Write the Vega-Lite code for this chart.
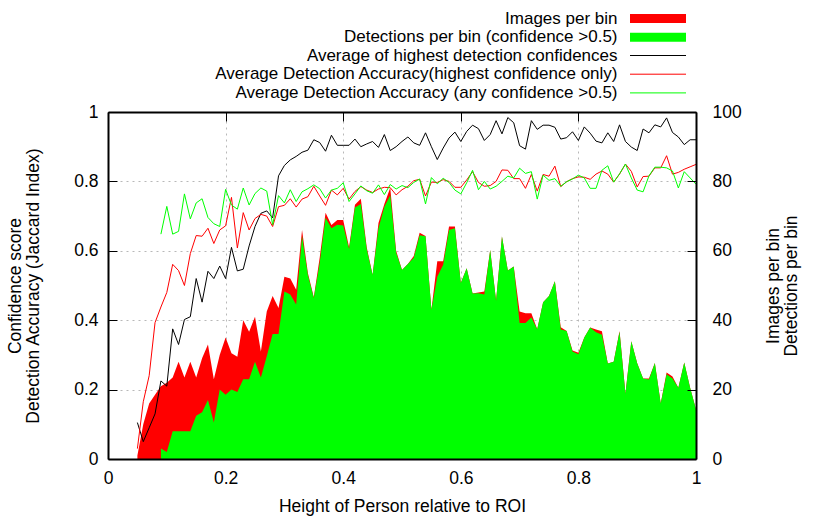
{
  "$schema": "https://vega.github.io/schema/vega-lite/v6.json",
  "width": 588,
  "height": 347,
  "autosize": {"type": "none"},
  "padding": {"left": 108, "top": 112, "right": 134, "bottom": 59},
  "background": "#ffffff",
  "data": {"values": [
    {"h":0.05,"img":1,"det":null,"conf":0.105,"acc":0.03,"accAny":null},
    {"h":0.06,"img":10,"det":null,"conf":0.05,"acc":0.165,"accAny":null},
    {"h":0.07,"img":16,"det":null,"conf":0.09,"acc":0.24,"accAny":null},
    {"h":0.08,"img":18.5,"det":null,"conf":0.13,"acc":0.393,"accAny":null},
    {"h":0.09,"img":21,"det":3,"conf":0.225,"acc":0.438,"accAny":0.648},
    {"h":0.10,"img":22,"det":2,"conf":0.21,"acc":0.48,"accAny":0.728},
    {"h":0.11,"img":23.5,"det":8,"conf":0.375,"acc":0.561,"accAny":0.648},
    {"h":0.12,"img":28,"det":8,"conf":0.33,"acc":0.543,"accAny":0.656},
    {"h":0.13,"img":23.5,"det":8,"conf":0.402,"acc":0.5,"accAny":0.764},
    {"h":0.14,"img":28,"det":8,"conf":0.41,"acc":0.592,"accAny":0.692},
    {"h":0.15,"img":23.5,"det":12.5,"conf":0.52,"acc":0.644,"accAny":0.738},
    {"h":0.16,"img":29,"det":13.5,"conf":0.452,"acc":0.642,"accAny":0.75},
    {"h":0.17,"img":33,"det":17,"conf":0.541,"acc":0.665,"accAny":0.696},
    {"h":0.18,"img":23,"det":10.5,"conf":0.52,"acc":0.621,"accAny":0.678},
    {"h":0.19,"img":30,"det":20,"conf":0.556,"acc":0.66,"accAny":0.67},
    {"h":0.20,"img":35,"det":18.5,"conf":0.52,"acc":0.672,"accAny":0.777},
    {"h":0.21,"img":30.5,"det":20,"conf":0.61,"acc":0.754,"accAny":0.732},
    {"h":0.22,"img":29.5,"det":19.3,"conf":0.542,"acc":0.608,"accAny":0.72},
    {"h":0.23,"img":40,"det":23,"conf":0.547,"acc":0.71,"accAny":0.781},
    {"h":0.24,"img":36.7,"det":23,"conf":0.614,"acc":0.66,"accAny":0.732},
    {"h":0.25,"img":41,"det":28,"conf":0.67,"acc":0.693,"accAny":0.765},
    {"h":0.26,"img":31,"det":23.5,"conf":0.708,"acc":0.705,"accAny":0.781},
    {"h":0.27,"img":42.5,"det":29.6,"conf":0.715,"acc":0.7,"accAny":0.772},
    {"h":0.28,"img":47,"det":36,"conf":0.695,"acc":0.67,"accAny":0.675},
    {"h":0.29,"img":43.5,"det":36,"conf":0.816,"acc":0.727,"accAny":0.759},
    {"h":0.30,"img":52.5,"det":48.3,"conf":0.846,"acc":0.731,"accAny":0.738},
    {"h":0.31,"img":52,"det":47.4,"conf":0.862,"acc":0.75,"accAny":0.776},
    {"h":0.32,"img":48.8,"det":44.5,"conf":0.872,"acc":0.726,"accAny":0.742},
    {"h":0.33,"img":66,"det":64.2,"conf":0.884,"acc":0.749,"accAny":0.77},
    {"h":0.34,"img":53.5,"det":53,"conf":0.89,"acc":0.756,"accAny":0.779},
    {"h":0.35,"img":46.6,"det":46.4,"conf":0.92,"acc":0.786,"accAny":0.79},
    {"h":0.36,"img":58,"det":56.5,"conf":0.912,"acc":0.758,"accAny":0.779},
    {"h":0.37,"img":71,"det":69.5,"conf":0.887,"acc":0.731,"accAny":0.752},
    {"h":0.38,"img":67.4,"det":66.5,"conf":0.933,"acc":0.775,"accAny":0.775},
    {"h":0.39,"img":68.9,"det":67.5,"conf":0.904,"acc":0.761,"accAny":0.78},
    {"h":0.40,"img":68.9,"det":67.3,"conf":0.904,"acc":0.78,"accAny":0.796},
    {"h":0.41,"img":61,"det":60.5,"conf":0.904,"acc":0.749,"accAny":0.742},
    {"h":0.42,"img":73.3,"det":72.5,"conf":0.922,"acc":0.771,"accAny":0.764},
    {"h":0.43,"img":75,"det":73.5,"conf":0.9,"acc":0.785,"accAny":0.787},
    {"h":0.44,"img":61,"det":60.5,"conf":0.908,"acc":0.775,"accAny":0.773},
    {"h":0.45,"img":53,"det":53,"conf":0.915,"acc":0.768,"accAny":0.766},
    {"h":0.46,"img":68,"det":66.5,"conf":0.898,"acc":0.778,"accAny":0.79},
    {"h":0.47,"img":73.5,"det":72.7,"conf":0.935,"acc":0.783,"accAny":0.762},
    {"h":0.48,"img":78.2,"det":76,"conf":0.889,"acc":0.782,"accAny":0.791},
    {"h":0.49,"img":60,"det":59.5,"conf":0.9,"acc":0.761,"accAny":0.778},
    {"h":0.50,"img":54.5,"det":54.5,"conf":0.915,"acc":0.776,"accAny":0.788},
    {"h":0.51,"img":56.2,"det":56.2,"conf":0.928,"acc":0.786,"accAny":0.782},
    {"h":0.52,"img":58.5,"det":58,"conf":0.911,"acc":0.802,"accAny":0.797},
    {"h":0.53,"img":65.2,"det":64.5,"conf":0.904,"acc":0.806,"accAny":0.807},
    {"h":0.54,"img":64.3,"det":64.2,"conf":0.94,"acc":0.758,"accAny":0.735},
    {"h":0.55,"img":43,"det":43,"conf":0.9,"acc":0.798,"accAny":0.811},
    {"h":0.56,"img":57,"det":52.5,"conf":0.863,"acc":0.797,"accAny":0.793},
    {"h":0.57,"img":57,"det":56,"conf":0.896,"acc":0.805,"accAny":0.809},
    {"h":0.58,"img":67,"det":66,"conf":0.925,"acc":0.8,"accAny":0.797},
    {"h":0.59,"img":67,"det":66.5,"conf":0.942,"acc":0.783,"accAny":0.775},
    {"h":0.60,"img":50.7,"det":50.7,"conf":0.915,"acc":0.783,"accAny":0.764},
    {"h":0.61,"img":55,"det":55,"conf":0.944,"acc":0.804,"accAny":0.796},
    {"h":0.62,"img":47.7,"det":47.7,"conf":0.962,"acc":0.828,"accAny":0.832},
    {"h":0.63,"img":48,"det":47.8,"conf":0.952,"acc":0.797,"accAny":0.776},
    {"h":0.64,"img":48.3,"det":47.4,"conf":0.918,"acc":0.786,"accAny":0.8},
    {"h":0.65,"img":60.2,"det":60.2,"conf":0.935,"acc":0.788,"accAny":0.778},
    {"h":0.66,"img":45.6,"det":45.6,"conf":0.975,"acc":0.8,"accAny":0.786},
    {"h":0.67,"img":64.1,"det":64.1,"conf":0.937,"acc":0.833,"accAny":0.8},
    {"h":0.68,"img":54.3,"det":54.3,"conf":0.984,"acc":0.832,"accAny":0.815},
    {"h":0.69,"img":55.5,"det":55.5,"conf":0.969,"acc":0.808,"accAny":0.81},
    {"h":0.70,"img":42.5,"det":39.2,"conf":0.903,"acc":0.808,"accAny":0.838},
    {"h":0.71,"img":42,"det":39.2,"conf":0.893,"acc":0.78,"accAny":0.823},
    {"h":0.72,"img":42,"det":40.8,"conf":0.975,"acc":0.82,"accAny":0.828},
    {"h":0.73,"img":37.4,"det":37.4,"conf":0.95,"acc":0.772,"accAny":0.749},
    {"h":0.74,"img":45.2,"det":45.2,"conf":0.962,"acc":0.82,"accAny":0.818},
    {"h":0.75,"img":47,"det":47,"conf":0.962,"acc":0.815,"accAny":0.803},
    {"h":0.76,"img":51.2,"det":51.2,"conf":0.956,"acc":0.844,"accAny":0.808},
    {"h":0.77,"img":38,"det":37.3,"conf":0.922,"acc":0.785,"accAny":0.786},
    {"h":0.78,"img":36.9,"det":36.9,"conf":0.926,"acc":0.799,"accAny":0.799},
    {"h":0.79,"img":31.3,"det":31,"conf":0.943,"acc":0.808,"accAny":0.807},
    {"h":0.80,"img":30.6,"det":30.2,"conf":0.918,"acc":0.813,"accAny":0.818},
    {"h":0.81,"img":35,"det":35,"conf":0.957,"acc":0.812,"accAny":0.81},
    {"h":0.82,"img":37.9,"det":37.9,"conf":0.939,"acc":0.806,"accAny":0.78},
    {"h":0.83,"img":37.3,"det":36.5,"conf":0.916,"acc":0.821,"accAny":0.78},
    {"h":0.84,"img":36.8,"det":35.8,"conf":0.911,"acc":0.83,"accAny":0.832},
    {"h":0.85,"img":27.5,"det":27.5,"conf":0.94,"acc":0.821,"accAny":0.845},
    {"h":0.86,"img":28,"det":28,"conf":0.915,"acc":0.798,"accAny":0.798},
    {"h":0.87,"img":36.9,"det":36.7,"conf":0.963,"acc":0.821,"accAny":0.822},
    {"h":0.88,"img":18.8,"det":18.8,"conf":0.915,"acc":0.85,"accAny":0.85},
    {"h":0.89,"img":33.9,"det":33.9,"conf":0.899,"acc":0.829,"accAny":0.81},
    {"h":0.90,"img":27.6,"det":27.6,"conf":0.889,"acc":0.784,"accAny":0.775},
    {"h":0.91,"img":23.2,"det":23.2,"conf":0.951,"acc":0.814,"accAny":0.77},
    {"h":0.92,"img":23.2,"det":22.9,"conf":0.94,"acc":0.815,"accAny":0.816},
    {"h":0.93,"img":27.7,"det":27.7,"conf":0.963,"acc":0.839,"accAny":0.841},
    {"h":0.94,"img":16,"det":16,"conf":0.957,"acc":0.839,"accAny":0.841},
    {"h":0.95,"img":24.9,"det":24.4,"conf":0.983,"acc":0.874,"accAny":0.839},
    {"h":0.96,"img":23.8,"det":23.2,"conf":0.941,"acc":0.821,"accAny":0.83},
    {"h":0.97,"img":20.5,"det":20.5,"conf":0.928,"acc":0.826,"accAny":0.781},
    {"h":0.98,"img":27.8,"det":27.8,"conf":0.906,"acc":0.835,"accAny":0.828},
    {"h":0.99,"img":20.5,"det":20.5,"conf":0.92,"acc":0.842,"accAny":0.81},
    {"h":1.00,"img":14.3,"det":14.3,"conf":0.92,"acc":0.849,"accAny":0.792}
  ]},
  "layer": [
    {
      "encoding": {
        "x": {"field": "h", "type": "quantitative", "scale": {"domain": [0, 1], "nice": false},
          "axis": {"orient": "bottom", "values": [0, 0.2, 0.4, 0.6, 0.8, 1], "format": "~g", "ticks": false, "labelPadding": 10, "title": "Height of Person relative to ROI", "titlePadding": 11, "grid": false, "zindex": 1}}
      },
      "layer": [
        {
          "mark": {"type": "area", "interpolate": "linear", "opacity": 1},
          "encoding": {
            "y": {"field": "img", "type": "quantitative", "scale": {"domain": [0, 100], "nice": false},
              "axis": {"orient": "right", "values": [0, 20, 40, 60, 80, 100], "tickSize": -9, "labelPadding": 25, "title": ["Images per bin", "Detections per bin"], "titleAngle": 270, "titleBaseline": "top", "titlePadding": 5, "titleLineHeight": 18, "grid": false, "zindex": 1}},
            "fill": {"datum": "img", "type": "nominal",
              "scale": {"domain": ["img", "det"], "range": ["#ff0000", "#00ff00"]},
              "legend": {
                "orient": "none", "legendX": 541.5, "legendY": -102, "title": null, "direction": "vertical",
                "labelExpr": "{'img':'Images per bin','det':'Detections per bin (confidence >0.5)'}[datum.value]",
                "labelAlign": "right", "labelOffset": -49, "labelFontSize": 17, "labelColor": "#000000", "labelLimit": 0,
                "symbolType": "M-4,-0.64H4V0.64H-4Z", "symbolSize": 196, "symbolStrokeWidth": 0,
                "rowPadding": 0.7, "padding": 0
              }
            }
          }
        },
        {
          "mark": {"type": "area", "interpolate": "linear", "opacity": 1},
          "encoding": {
            "y": {"field": "det", "type": "quantitative", "scale": {"domain": [0, 100], "nice": false},
              "axis": {"orient": "right", "values": [0, 20, 40, 60, 80, 100], "tickSize": -9, "labelPadding": 25, "title": ["Images per bin", "Detections per bin"], "titleAngle": 270, "titleBaseline": "top", "titlePadding": 5, "titleLineHeight": 18, "grid": false, "zindex": 1}},
            "fill": {"datum": "det", "type": "nominal",
              "scale": {"domain": ["img", "det"], "range": ["#ff0000", "#00ff00"]}}
          }
        }
      ]
    },
    {
      "encoding": {
        "x": {"field": "h", "type": "quantitative", "scale": {"domain": [0, 1], "nice": false},
          "axis": {"orient": "top", "values": [0, 0.2, 0.4, 0.6, 0.8, 1], "labels": false, "tickSize": -9, "title": null, "grid": true}}
      },
      "layer": [
        {
          "mark": {"type": "line", "strokeWidth": 1},
          "encoding": {
            "y": {"field": "conf", "type": "quantitative", "scale": {"domain": [0, 1], "nice": false},
              "axis": {"orient": "left", "values": [0, 0.2, 0.4, 0.6, 0.8, 1], "format": "~g", "tickSize": -9, "labelPadding": 19, "title": ["Confidence score", "Detection Accuracy (Jaccard Index)"], "titlePadding": 31, "titleLineHeight": 18, "grid": true}},
            "stroke": {"datum": "conf", "type": "nominal",
              "scale": {"domain": ["conf", "acc", "accAny"], "range": ["#000000", "#ff0000", "#00ff00"]},
              "legend": {
                "orient": "none", "legendX": 541.5, "legendY": -65, "title": null, "direction": "vertical",
                "labelExpr": "{'conf':'Average of highest detection confidences','acc':'Average Detection Accuracy(highest confidence only)','accAny':'Average Detection Accuracy (any confidence >0.5)'}[datum.value]",
                "labelAlign": "right", "labelOffset": -49, "labelFontSize": 17, "labelColor": "#000000", "labelLimit": 0,
                "symbolType": "M-4,0H4", "symbolSize": 196, "symbolStrokeWidth": 1,
                "rowPadding": 0.7, "padding": 0
              }
            }
          }
        },
        {
          "mark": {"type": "line", "strokeWidth": 1},
          "encoding": {
            "y": {"field": "acc", "type": "quantitative", "scale": {"domain": [0, 1], "nice": false},
              "axis": {"orient": "left", "values": [0, 0.2, 0.4, 0.6, 0.8, 1], "format": "~g", "tickSize": -9, "labelPadding": 19, "title": ["Confidence score", "Detection Accuracy (Jaccard Index)"], "titlePadding": 31, "titleLineHeight": 18, "grid": true}},
            "stroke": {"datum": "acc", "type": "nominal",
              "scale": {"domain": ["conf", "acc", "accAny"], "range": ["#000000", "#ff0000", "#00ff00"]}}
          }
        },
        {
          "mark": {"type": "line", "strokeWidth": 1},
          "encoding": {
            "y": {"field": "accAny", "type": "quantitative", "scale": {"domain": [0, 1], "nice": false},
              "axis": {"orient": "left", "values": [0, 0.2, 0.4, 0.6, 0.8, 1], "format": "~g", "tickSize": -9, "labelPadding": 19, "title": ["Confidence score", "Detection Accuracy (Jaccard Index)"], "titlePadding": 31, "titleLineHeight": 18, "grid": true}},
            "stroke": {"datum": "accAny", "type": "nominal",
              "scale": {"domain": ["conf", "acc", "accAny"], "range": ["#000000", "#ff0000", "#00ff00"]}}
          }
        }
      ]
    }
  ],
  "resolve": {"scale": {"y": "independent"}, "axis": {"y": "independent", "x": "independent"}},
  "config": {
    "font": "Liberation Sans",
    "view": {"stroke": null},
    "axis": {
      "labelFont": "Liberation Sans", "titleFont": "Liberation Sans",
      "labelFontSize": 17.5, "titleFontSize": 17.5, "titleFontWeight": "normal",
      "labelColor": "#000000", "titleColor": "#000000",
      "tickColor": "#000000", "tickWidth": 1,
      "domainColor": "#000000", "domainWidth": 2,
      "gridColor": "#b8b8b8", "gridDash": [2, 4], "gridWidth": 1,
      "labelFlush": false
    },
    "legend": {"labelFont": "Liberation Sans"}
  }
}
